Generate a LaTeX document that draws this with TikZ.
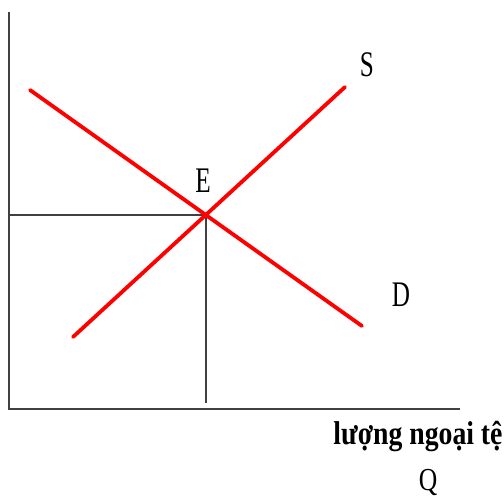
\documentclass[tikz,border=0pt]{standalone}
\usepackage{fontspec}
\newfontfamily\graphfont[FakeStretch=0.7]{Liberation Serif}
\newfontfamily\graphfontwide[FakeStretch=0.8]{Liberation Serif}
\newfontfamily\graphfontbold[FakeStretch=0.84]{Liberation Serif Bold}
\usetikzlibrary{positioning, calc}

\begin{document}
\begin{tikzpicture}[x=1pt, y=-1pt,
  axis/.style={black!75, line width=1.6pt},
  guide/.style={black!75, line width=1.5pt},
  curve/.style={red, line width=3.8pt, line cap=round},
  lab/.style={font=\fontsize{36}{40}\selectfont\graphfont, anchor=base, inner sep=0pt}]

\useasboundingbox (0,0) rectangle (504,497);

% --- Axes ---
\coordinate (O) at (9,409);
\coordinate (ytop) at (9,12);
\coordinate (xend) at (460,409);
\draw[axis] (ytop) -- (O) -- (xend);

% --- Demand and supply ---
\coordinate (d1) at (30,90);
\coordinate (d2) at (362,326);
\coordinate (s1) at (73,337);
\coordinate (s2) at (345,87);
\coordinate (E) at (intersection of d1--d2 and s1--s2);

% --- Equilibrium guides ---
\coordinate (Ey) at (O |- E);
\coordinate (Ex) at ($(E |- O)+(0,-6)$);
\draw[guide] (Ey) -- (E) -- (Ex);

\draw[curve] (d1) -- (d2);
\draw[curve] (s1) -- (s2);

% --- Labels ---
\node[lab] (labS) at (367,77) {S};
\node[lab] (labE) at (203,193) {E};
\node[lab] (labD) at (401,307) {D};
\node[lab, font=\fontsize{33}{38}\selectfont\graphfontbold] (labQty) at (418,444) {lượng ngoại tệ};
\node[lab, font=\fontsize{32}{36}\selectfont\graphfontwide] (labQ) at (428,490) {Q};

\end{tikzpicture}
\end{document}
